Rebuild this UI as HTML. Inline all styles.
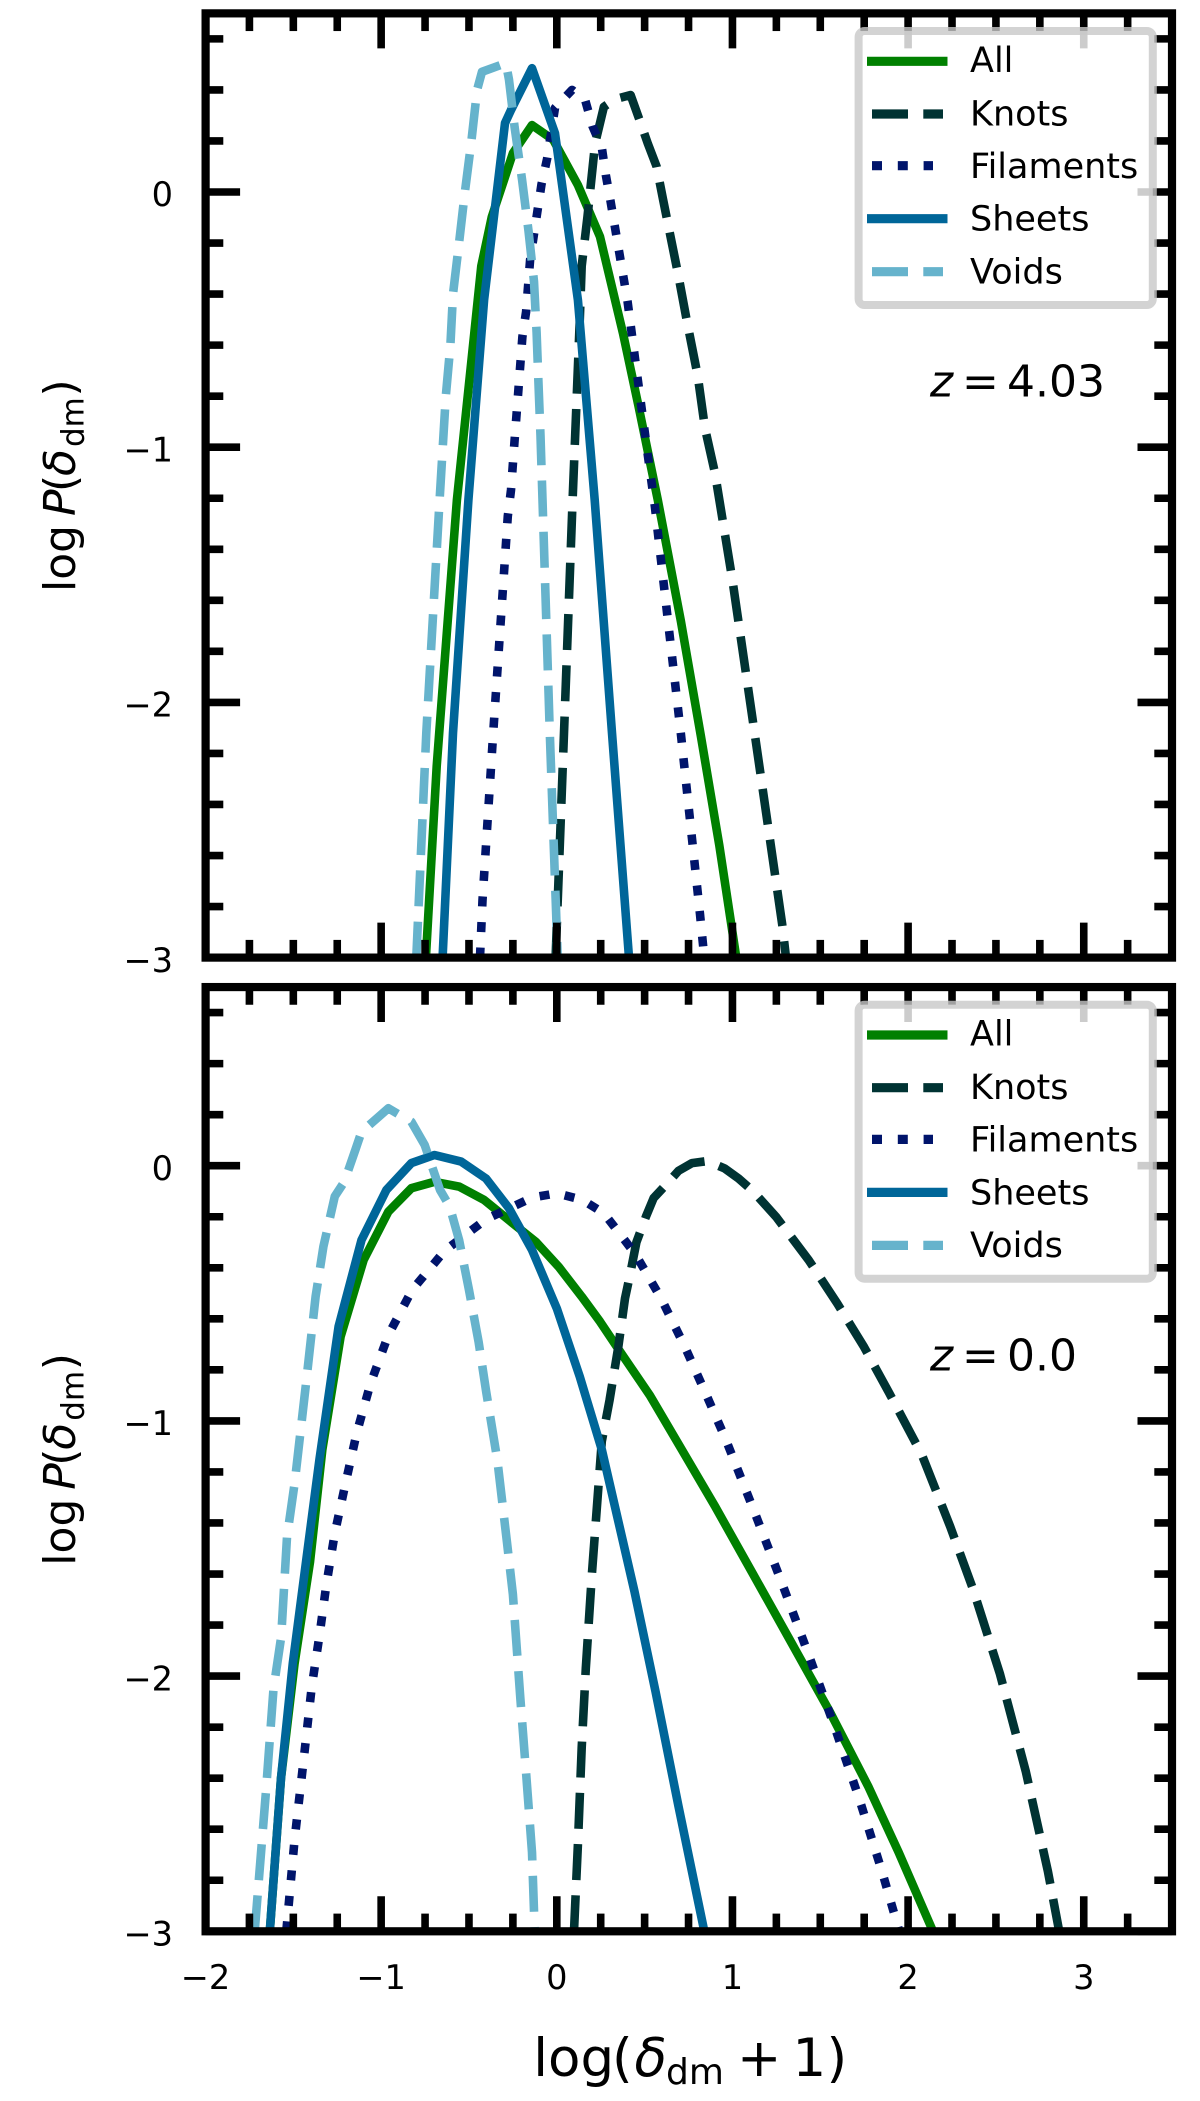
<!DOCTYPE html>
<html lang="en">
<head>
<meta charset="utf-8">
<title>Dark matter overdensity PDF by cosmic web environment</title>
<style>
html,body{margin:0;padding:0;background:#fff;}
svg{display:block;}
text{font-family:"DejaVu Sans","Liberation Sans",sans-serif;fill:#000;white-space:pre;}
</style>
</head>
<body>
<svg id="chart" xmlns="http://www.w3.org/2000/svg" width="1200" height="2101" viewBox="0 0 1200 2101"></svg>
<script>
// ---- tick values and labels ----
var xMajorTicks = [-2, -1, 0, 1, 2, 3];
var xMinorTicks = [-1.75, -1.5, -1.25, -0.75, -0.5, -0.25, 0.25, 0.5, 0.75, 1.25, 1.5, 1.75, 2.25, 2.5, 2.75, 3.25];
var yMajorTicks = [0, -1, -2, -3];
var yMinorTicks = [0.6, 0.4, 0.2, -0.2, -0.4, -0.6, -0.8, -1.2, -1.4, -1.6, -1.8, -2.2, -2.4, -2.6, -2.8];
var seriesNames = ['All', 'Knots', 'Filaments', 'Sheets', 'Voids'];

// ---- z = 4.03 panel ----
var allXHigh = [-0.745,-0.684,-0.569,-0.43,-0.37,-0.25,-0.141,-0.02,0.12,0.246,0.377,0.464,0.575,0.706,0.82,0.925,1.022];
var allYHigh = [-3,-2.25,-1.207,-0.29,-0.097,0.152,0.262,0.204,0.027,-0.175,-0.554,-0.835,-1.207,-1.68,-2.13,-2.56,-3];
var knotsXHigh = [-0.007,0.041,0.09,0.131,0.142,0.175,0.218,0.268,0.333,0.42,0.485,0.518,0.568,0.605,0.693,0.736,0.802,0.844,0.9,1.0,1.12,1.283,1.305];
var knotsYHigh = [-3,-2.12,-1.207,-0.5,-0.29,-0.096,0.19,0.334,0.364,0.38,0.255,0.19,0.1,-0.03,-0.33,-0.49,-0.72,-0.926,-1.1,-1.52,-2.09,-2.87,-3];
var filamentsXHigh = [-0.437,-0.423,-0.362,-0.279,-0.261,-0.24,-0.218,-0.196,-0.175,-0.152,-0.109,-0.087,-0.055,-0.01,0.087,0.163,0.203,0.257,0.279,0.305,0.354,0.403,0.46,0.518,0.558,0.706,0.815,0.84];
var filamentsYHigh = [-3,-2.775,-2.12,-1.27,-1.168,-0.972,-0.77,-0.567,-0.469,-0.266,-0.068,0.03,0.13,0.33,0.4,0.357,0.258,0.172,0.067,-0.033,-0.231,-0.43,-0.73,-1.03,-1.23,-2.12,-2.83,-3];
var sheetsXHigh = [-0.65,-0.591,-0.503,-0.414,-0.295,-0.261,-0.141,-0.01,0.12,0.216,0.314,0.411];
var sheetsYHigh = [-3,-2.12,-1.207,-0.423,0.27,0.321,0.485,0.23,-0.423,-1.207,-2.12,-3];
var voidsXHigh = [-0.8,-0.743,-0.667,-0.632,-0.606,-0.591,-0.556,-0.523,-0.486,-0.454,-0.426,-0.29,-0.272,-0.24,-0.198,-0.161,-0.13,-0.115,-0.104,-0.093,-0.04,0.005];
var voidsYHigh = [-3,-2.12,-1.207,-0.8,-0.6,-0.4,-0.198,0,0.2,0.4,0.471,0.505,0.44,0.254,0.05,-0.152,-0.351,-0.55,-0.752,-0.955,-2.12,-3];

// ---- z = 0.0 panel ----
var allXLow = [-1.634,-1.57,-1.493,-1.405,-1.335,-1.231,-1.1,-0.959,-0.828,-0.697,-0.556,-0.414,-0.25,-0.12,0.011,0.142,0.246,0.354,0.53,0.713,0.9,1.117,1.336,1.553,1.772,1.946,2.142];
var allYLow = [-3,-2.4,-1.95,-1.553,-1.114,-0.67,-0.37,-0.18,-0.088,-0.063,-0.082,-0.134,-0.226,-0.298,-0.396,-0.513,-0.611,-0.722,-0.9,-1.114,-1.334,-1.6,-1.87,-2.138,-2.431,-2.69,-3];
var knotsXLow = [0.098,0.12,0.142,0.165,0.2,0.256,0.3,0.35,0.388,0.416,0.453,0.507,0.551,0.628,0.693,0.769,0.856,0.954,1.035,1.117,1.248,1.434,1.597,1.749,1.892,2.077,2.24,2.37,2.523,2.67,2.796,2.86];
var knotsYLow = [-3,-2.66,-2.28,-1.97,-1.6,-1.08,-0.92,-0.71,-0.52,-0.43,-0.3,-0.2,-0.127,-0.07,-0.02,0.01,0.018,-0.01,-0.05,-0.1,-0.2,-0.37,-0.54,-0.71,-0.89,-1.13,-1.415,-1.66,-1.992,-2.374,-2.765,-3];
var filamentsXLow = [-1.54,-1.493,-1.443,-1.395,-1.351,-1.312,-1.264,-1.203,-1.14,-1.061,-0.959,-0.824,-0.638,-0.403,-0.141,0,0.146,0.268,0.447,0.594,0.725,0.844,0.961,1.122,1.281,1.434,1.582,1.724,1.854,1.95];
var filamentsYLow = [-3,-2.64,-2.34,-2.04,-1.84,-1.643,-1.44,-1.245,-1.049,-0.855,-0.663,-0.487,-0.333,-0.21,-0.125,-0.108,-0.134,-0.186,-0.346,-0.52,-0.703,-0.886,-1.071,-1.351,-1.634,-1.917,-2.2,-2.485,-2.772,-3];
var sheetsXLow = [-1.634,-1.57,-1.503,-1.428,-1.351,-1.242,-1.112,-0.97,-0.828,-0.697,-0.545,-0.403,-0.272,-0.141,0,0.131,0.257,0.442,0.562,0.693,0.84];
var sheetsYLow = [-3,-2.4,-1.95,-1.553,-1.15,-0.63,-0.291,-0.095,0.01,0.042,0.016,-0.05,-0.167,-0.33,-0.559,-0.827,-1.114,-1.667,-2.06,-2.51,-3];
var voidsXLow = [-1.72,-1.656,-1.613,-1.569,-1.536,-1.493,-1.428,-1.373,-1.329,-1.264,-1.21,-1.144,-1.112,-0.959,-0.828,-0.752,-0.665,-0.61,-0.556,-0.5,-0.445,-0.402,-0.338,-0.283,-0.25,-0.207,-0.175,-0.141,-0.126];
var voidsYLow = [-3,-2.455,-2.05,-1.846,-1.455,-1.245,-0.854,-0.513,-0.317,-0.12,-0.063,0.068,0.133,0.225,0.172,0.081,-0.095,-0.16,-0.291,-0.487,-0.69,-0.886,-1.155,-1.48,-1.68,-2.09,-2.38,-2.69,-3];

var NS = 'http://www.w3.org/2000/svg';
var svg = document.getElementById('chart');
var colors = ['#008000', '#003333', '#00146b', '#006699', '#66b3cc'];
var dashes = [null, '36 15.3', '10 15.6', null, '36 15.3'];
var LEFT = 205.6, RIGHT = 1172;

function mk(tag, attrs, parent) {
  var el = document.createElementNS(NS, tag);
  for (var k in attrs) el.setAttribute(k, attrs[k]);
  (parent || svg).appendChild(el);
  return el;
}
function xScale(v) { return 556.8 + 175.65 * v; }

function drawPanel(id, y0, series, zText, clipId) {
  function yScale(v) { return y0 - 255.2 * v; }
  var top = yScale(0.7), bottom = yScale(-3);
  var g = mk('g', {});
  
  

  var defs = mk('defs', {}, g);
  var cp = mk('clipPath', { id: clipId }, defs);
  mk('rect', { x: LEFT, y: top, width: RIGHT - LEFT, height: bottom - top }, cp);

  // series lines
  var lines = mk('g', { 'clip-path': 'url(#' + clipId + ')' }, g);
  
  
  series.forEach(function (s, i) {
    var pts = s[0].map(function (x, j) { return xScale(x).toFixed(1) + ',' + yScale(s[1][j]).toFixed(1); }).join(' ');
    var attrs = { points: pts, fill: 'none', stroke: colors[i], 'stroke-width': 8.6, 'stroke-linejoin': 'round' };
    if (dashes[i]) attrs['stroke-dasharray'] = dashes[i];
    var line = mk('polyline', attrs, lines);
    
    
  });

  // ticks
  var ticks = mk('g', { stroke: '#000', 'stroke-width': 7.6 }, g);
  
  
  function xTick(v, len) {
    var x = xScale(v);
    mk('line', { x1: x, x2: x, y1: bottom, y2: bottom - len }, ticks);
    mk('line', { x1: x, x2: x, y1: top, y2: top + len }, ticks);
  }
  function yTick(v, len) {
    var y = yScale(v);
    mk('line', { x1: LEFT, x2: LEFT + len, y1: y, y2: y }, ticks);
    mk('line', { x1: RIGHT, x2: RIGHT - len, y1: y, y2: y }, ticks);
  }
  xMajorTicks.forEach(function (v) { xTick(v, 35); });
  xMinorTicks.forEach(function (v) { xTick(v, 17.7); });
  yMajorTicks.forEach(function (v) { yTick(v, 34.5); });
  yMinorTicks.forEach(function (v) { yTick(v, 17.7); });

  // frame
  var frame = mk('rect', { x: LEFT, y: top, width: RIGHT - LEFT, height: bottom - top, fill: 'none', stroke: '#000', 'stroke-width': 8.2 }, g);
  
  

  // y tick labels
  yMajorTicks.forEach(function (v) {
    var t = mk('text', { x: 173, y: yScale(v) + 14.2, 'font-size': 33.6, 'text-anchor': 'end' }, g);
    t.textContent = v < 0 ? '\u2212' + Math.abs(v) : String(v);
    
    
  });

  // y axis title (pieces placed like mathtext)
  var yc = y0 + 400;
  var yt = mk('text', { transform: 'translate(75 ' + yc + ') rotate(-90)', 'font-size': 44 }, g);
  
  
  [['log', 0, 0, 44, 'normal'], ['P', 76, 0, 44, 'italic'], ['(', 100, 0, 44, 'normal'], ['\u03B4', 116, 0, 44, 'italic'], ['dm', 145, 8.3, 31, 'normal'], [')', 195.5, 0, 44, 'normal']].forEach(function (p) {
    var ts = mk('tspan', { x: p[1], y: p[2], 'font-size': p[3], 'font-style': p[4] }, yt);
    ts.textContent = p[0];
  });

  // redshift annotation
  var zg = mk('g', { 'font-size': 44 }, g);
  
  
  var zb = y0 + 204.7;
  var t1 = mk('text', { x: 930, y: zb, 'font-style': 'italic' }, zg);
  t1.textContent = 'z';
  var t2 = mk('text', { x: 962, y: zb }, zg);
  t2.textContent = '=';
  var t3 = mk('text', { x: 1007, y: zb }, zg);
  t3.textContent = zText;

  // legend
  var dy = y0 - 192;
  var lg = mk('g', {}, g);
  
  
  mk('rect', { x: 858.6, y: 31 + dy, width: 294.2, height: 274, rx: 6, fill: 'rgba(255,255,255,0.8)', stroke: 'rgba(200,200,200,0.8)', 'stroke-width': 8 }, lg);
  var handleStart = [867, 872, 872, 867, 872];
  var handleEnd = [947.5, 943, 933, 947.5, 943];
  var handleY = [61.3, 114, 165.7, 218.7, 271.7];
  var textY = [72, 125.5, 178, 230.7, 283.3];
  seriesNames.forEach(function (name, i) {
    var a = { x1: handleStart[i], x2: handleEnd[i], y1: handleY[i] + dy, y2: handleY[i] + dy, stroke: colors[i], 'stroke-width': 9.2 };
    if (dashes[i]) a['stroke-dasharray'] = i === 2 ? '10 15.8' : '36 15.3';
    var h = mk('line', a, lg);
    
    
    var lt = mk('text', { x: 970, y: textY[i] + dy, 'font-size': 35 }, lg);
    lt.textContent = name;
    
    
  });
}

drawPanel('top', 192, [[allXHigh, allYHigh], [knotsXHigh, knotsYHigh], [filamentsXHigh, filamentsYHigh], [sheetsXHigh, sheetsYHigh], [voidsXHigh, voidsYHigh]], '4.03', 'clip-top');
drawPanel('bottom', 1165.7, [[allXLow, allYLow], [knotsXLow, knotsYLow], [filamentsXLow, filamentsYLow], [sheetsXLow, sheetsYLow], [voidsXLow, voidsYLow]], '0.0', 'clip-bottom');

// x tick labels
xMajorTicks.forEach(function (v) {
  var t = mk('text', { x: xScale(v), y: 1989, 'font-size': 33.6, 'text-anchor': 'middle' });
  t.textContent = v < 0 ? '\u2212' + Math.abs(v) : String(v);
  
  
});

// x axis title
var xt = mk('text', { 'font-size': 53 });


[['log', 533.3, 2076, 53, 'normal'], ['(', 612, 2076, 53, 'normal'], ['\u03B4', 634.5, 2076, 53, 'italic'], ['dm', 666, 2084, 36, 'normal'], ['+', 737, 2076, 53, 'normal'], ['1', 792.5, 2076, 53, 'normal'], [')', 826.5, 2076, 53, 'normal']].forEach(function (p) {
  var ts = mk('tspan', { x: p[1], y: p[2], 'font-size': p[3], 'font-style': p[4] }, xt);
  ts.textContent = p[0];
});
</script>
</body>
</html>
